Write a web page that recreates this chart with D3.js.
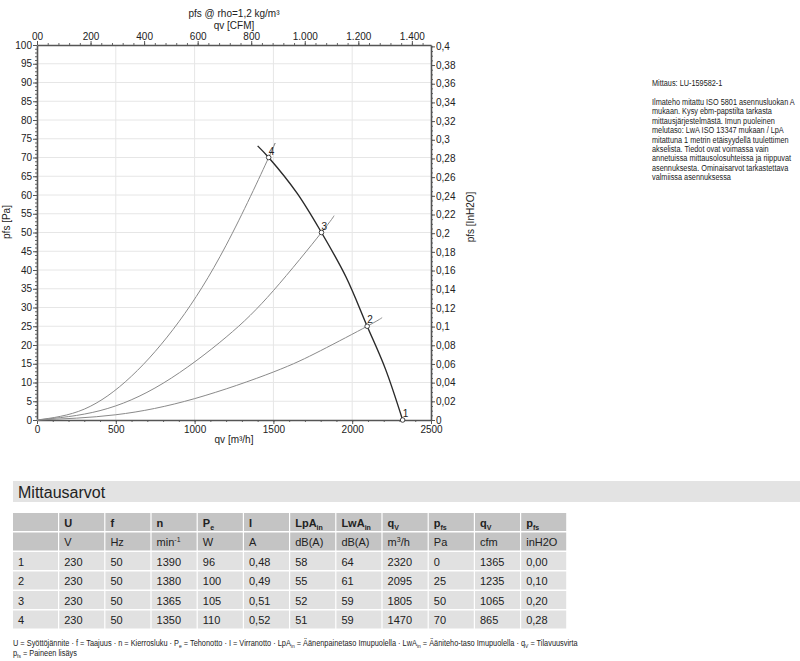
<!DOCTYPE html>
<html>
<head>
<meta charset="utf-8">
<script src="https://cdn.jsdelivr.net/npm/d3@7"></script>
<style>
  body { margin: 0; background: #fff; }
  svg { display: block; font-family: "Liberation Sans", Arial, sans-serif; }
</style>
</head>
<body>
<svg id="chart" width="800" height="661"></svg>
<script>
// operating points 1..4
const opLabels = ['1', '2', '3', '4'];
const opQv = [2320, 2095, 1805, 1470];
const opPfs = [0, 25, 50, 70];

// fan curve [qv m3/h, pfs Pa]
const fanCurve = [[1400, 73.1], [1470, 70], [1650, 60.5], [1805, 50], [1960, 38.2], [2095, 25], [2210, 13.7], [2320, 0]];

// system curves (through the operating points)
const sysCurves = [
  [[0, 0], [500, 1.4], [1000, 5.7], [1500, 12.8], [1800, 18.5], [2095, 25], [2190, 27.3]],
  [[0, 0], [400, 2.5], [800, 9.8], [1200, 22.1], [1500, 34.5], [1805, 50], [1885, 54.5]],
  [[0, 0], [300, 2.9], [600, 11.7], [900, 26.2], [1200, 46.6], [1470, 70], [1504, 73.3]]
];

const qvTicks = [0, 500, 1000, 1500, 2000, 2500];
const cfmTicks = [0, 200, 400, 600, 800, 1000, 1200, 1400];
const paTicks = d3.range(0, 101, 5);
const inTicks = d3.range(0, 21).map(i => i * 0.02);

// table
const tableHead = [['', ''], ['U', ''], ['f', ''], ['n', ''], ['P', 'e'], ['I', ''], ['LpA', 'in'], ['LwA', 'in'], ['q', 'V'], ['p', 'fs'], ['q', 'V'], ['p', 'fs']];
const tableUnits = [['', ''], ['V', ''], ['Hz', ''], ['min', '-1'], ['W', ''], ['A', ''], ['dB(A)', ''], ['dB(A)', ''], ['m', '3', '/h'], ['Pa', ''], ['cfm', ''], ['inH2O', '']];
const tableRows = [
  ['1', '230', '50', '1390', '96', '0,48', '58', '64', '2320', '0', '1365', '0,00'],
  ['2', '230', '50', '1380', '100', '0,49', '55', '61', '2095', '25', '1235', '0,10'],
  ['3', '230', '50', '1365', '105', '0,51', '52', '59', '1805', '50', '1065', '0,20'],
  ['4', '230', '50', '1350', '110', '0,52', '51', '59', '1470', '70', '865', '0,28']
];

const noteLines = [
  'Ilmateho mitattu ISO 5801 asennusluokan A',
  'mukaan. Kysy ebm-papstilta tarkasta',
  'mittausjärjestelmästä. Imun puoleinen',
  'melutaso: LwA  ISO 13347 mukaan / LpA',
  'mitattuna 1 metrin etäisyydellä tuulettimen',
  'akselista. Tiedot ovat voimassa vain',
  'annetuissa mittausolosuhteissa ja riippuvat',
  'asennuksesta. Ominaisarvot tarkastettava',
  'valmiissa asennuksessa'
];

const svg = d3.select('#chart');
const x = d3.scaleLinear([0, 2500], [37, 431]);
const y = d3.scaleLinear([0, 100], [420, 45]);
const xCfm = d3.scaleLinear([0, 2500 / 1.69901], [37, 431]);
const yIn = d3.scaleLinear([0, 100 / 249.089], [420, 45]);
const de = d3.formatLocale({ decimal: ',', thousands: '.', grouping: [3], currency: ['', ''] });

// grid
const grid = svg.append('g').attr('stroke', '#e6e6e6').attr('stroke-width', 1);
paTicks.slice(1, -1).forEach(v => grid.append('line').attr('x1', x(0)).attr('x2', x(2500)).attr('y1', y(v)).attr('y2', y(v)));
qvTicks.slice(1, -1).forEach(v => grid.append('line').attr('x1', x(v)).attr('x2', x(v)).attr('y1', y(0)).attr('y2', y(100)));

// axes
function styleAxis(g) {
  g.selectAll('path').attr('stroke', '#555').attr('stroke-width', 1.6);
  g.selectAll('line').attr('stroke', '#555');
  g.selectAll('text').attr('fill', '#222').style('font-size', '10px');
}
function minor(axisFn, scale, vals, at, len) {
  svg.append('g').attr('transform', at)
    .call(axisFn(scale).tickValues(vals).tickSize(len).tickFormat(''))
    .call(g => g.select('path').remove())
    .selectAll('line').attr('stroke', '#666');
}
minor(d3.axisBottom, x, d3.range(0, 2501, 100), `translate(0,${y(0)})`, 2);
minor(d3.axisTop, xCfm, d3.range(0, 1471, 40), `translate(0,${y(100)})`, 2);
minor(d3.axisLeft, y, d3.range(0, 101, 1), `translate(${x(0)},0)`, 2);
minor(d3.axisRight, yIn, d3.range(0, 81).map(i => i * 0.005), `translate(${x(2500)},0)`, 2);

svg.append('g').attr('transform', `translate(0,${y(0)})`)
  .call(d3.axisBottom(x).tickValues(qvTicks).tickSize(4).tickSizeOuter(0).tickPadding(2).tickFormat(d3.format('d')))
  .call(styleAxis);
svg.append('g').attr('transform', `translate(0,${y(100)})`)
  .call(d3.axisTop(xCfm).tickValues(cfmTicks).tickSize(4).tickSizeOuter(0).tickPadding(1)
    .tickFormat(d => d === 0 ? '00' : de.format(',')(d)))
  .call(styleAxis);
svg.append('g').attr('transform', `translate(${x(0)},0)`)
  .call(d3.axisLeft(y).tickValues(paTicks).tickSize(4).tickSizeOuter(0).tickPadding(1))
  .call(styleAxis);
svg.append('g').attr('transform', `translate(${x(2500)},0)`)
  .call(d3.axisRight(yIn).tickValues(inTicks).tickSize(4).tickSizeOuter(0).tickPadding(1)
    .tickFormat(d => String(+d.toFixed(2)).replace('.', ',')))
  .call(styleAxis);

// axis titles
const t = svg.append('g').attr('fill', '#222').style('font-size', '10px').attr('text-anchor', 'middle');
t.append('text').attr('x', 234).attr('y', 17).text('pfs @ rho=1,2 kg/m³');
t.append('text').attr('x', 234).attr('y', 29).text('qv [CFM]');
t.append('text').attr('x', 234).attr('y', 443).text('qv [m³/h]');
t.append('text').attr('transform', 'translate(10,222) rotate(-90)').text('pfs [Pa]');
t.append('text').attr('transform', 'translate(474,217) rotate(-90)').text('pfs [InH2O]');

// curves
const sysLine = d3.line().x(d => x(d[0])).y(d => y(d[1])).curve(d3.curveNatural);
const fanLine = d3.line().x(d => x(d[0])).y(d => y(d[1])).curve(d3.curveCatmullRom);
svg.append('g').selectAll('path').data(sysCurves).join('path')
  .attr('d', sysLine).attr('fill', 'none').attr('stroke', '#8a8a8a').attr('stroke-width', 1);
svg.append('path').datum(fanCurve).attr('d', fanLine)
  .attr('fill', 'none').attr('stroke', '#2a2a2a').attr('stroke-width', 1.4);

// operating points
const pts = svg.append('g').selectAll('g').data(opQv).join('g')
  .attr('transform', (d, i) => `translate(${x(d)},${y(opPfs[i])})`);
pts.append('circle').attr('r', 2.3).attr('fill', '#fff').attr('stroke', '#333').attr('stroke-width', 0.9);
pts.append('text').attr('x', 0).attr('y', -3).style('font-size', '10px').attr('fill', '#222')
  .text((d, i) => opLabels[i]);

// notes on the right, squeezed so the widest line is ~143px like the original
const notes = svg.append('g').attr('fill', '#222').style('font-size', '9.5px');
notes.append('text').attr('x', 0).attr('y', 86).text('Mittaus: LU-159582-1');
notes.selectAll('text.n').data(noteLines).join('text').attr('class', 'n')
  .attr('x', 0).attr('y', (d, i) => 105 + i * 9.4)
  .text(d => d);
const widest = d3.max(notes.selectAll('text.n').nodes(), n => n.getComputedTextLength());
notes.attr('transform', `translate(652,0) scale(${143 / widest},1)`);

// table
svg.append('rect').attr('x', 13).attr('y', 481).attr('width', 787).attr('height', 21).attr('fill', '#e3e3e3');
svg.append('text').attr('x', 18).attr('y', 498).style('font-size', '16px').attr('fill', '#222').text('Mittausarvot');

const colX = d3.range(12).map(i => 13 + i * 46.2);
const rowY = d3.range(6).map(i => 513 + i * 19.5);
const tbl = svg.append('g').style('font-size', '11px').attr('fill', '#222');

function cell(r, c, bg, parts, bold) {
  tbl.append('rect').attr('x', colX[c]).attr('y', rowY[r]).attr('width', 45).attr('height', 18).attr('fill', bg);
  const tx = tbl.append('text').attr('x', colX[c] + 5).attr('y', rowY[r] + 13.5)
    .style('font-weight', bold ? 'bold' : 'normal');
  tx.append('tspan').text(parts[0]);
  if (parts[1]) {
    const sup = parts[1] === '-1' || parts[1] === '3';
    tx.append('tspan').attr('dy', sup ? -4 : 3).style('font-size', '7px').text(parts[1]);
    if (parts[2]) tx.append('tspan').attr('dy', sup ? 4 : -3).text(parts[2]);
  }
}
tableHead.forEach((p, c) => cell(0, c, '#c4c4c4', p, true));
tableUnits.forEach((p, c) => cell(1, c, '#c4c4c4', p, false));
tableRows.forEach((row, r) => row.forEach((v, c) => cell(r + 2, c, '#e1e1e1', [v], false)));

// legend below table (condensed)
const foot = svg.append('g').attr('transform', 'translate(13,0) scale(0.82,1)')
  .style('font-size', '9px').attr('fill', '#222');
const f1 = foot.append('text').attr('x', 0).attr('y', 646);
[['U = Syöttöjännite · f = Taajuus · n = Kierrosluku · P'], ['e', 1], [' = Tehonotto · I = Virranotto · LpA'], ['in', 1],
 [' = Äänenpainetaso Imupuolella · LwA'], ['in', 1], [' = Ääniteho-taso Imupuolella · q'], ['V', 1], [' = Tilavuusvirta']]
  .forEach((p, i, a) => {
    const prevSub = i > 0 && a[i - 1][1];
    f1.append('tspan').attr('dy', p[1] ? 2 : (prevSub ? -2 : 0))
      .style('font-size', p[1] ? '6px' : null).text(p[0]);
  });
const f2 = foot.append('text').attr('x', 0).attr('y', 656);
f2.append('tspan').text('p');
f2.append('tspan').attr('dy', 2).style('font-size', '6px').text('fs');
f2.append('tspan').attr('dy', -2).text(' = Paineen lisäys');
</script>
</body>
</html>
